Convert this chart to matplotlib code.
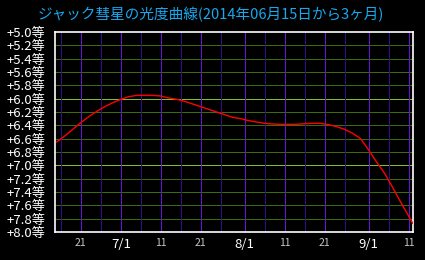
import numpy as np
import matplotlib
matplotlib.use("Agg")
import matplotlib.pyplot as plt

plt.rcParams['font.family'] = ['Noto Sans CJK JP', 'DejaVu Sans']

# Definitions
TITLE = "ジャック彗星の光度曲線(2014年06月15日から3ヶ月)"
START = np.datetime64('2014-06-15')

# days after 6/15 and magnitude
days = [0, 2, 4, 6, 8, 10, 12, 14, 16, 18, 20, 22, 24, 26, 28, 30, 32, 34, 36, 38,
        40, 42, 44, 46, 48, 50, 52, 54, 56, 58, 60, 62, 64, 66, 68, 70, 72, 74, 76,
        78, 80, 82, 84, 86, 88, 89]
mags = [6.65, 6.56, 6.46, 6.36, 6.27, 6.19, 6.12, 6.06, 6.01, 5.97, 5.95, 5.95, 5.95,
        5.96, 5.99, 6.01, 6.04, 6.08, 6.12, 6.16, 6.20, 6.24, 6.28, 6.30, 6.33, 6.35,
        6.37, 6.38, 6.385, 6.385, 6.385, 6.375, 6.37, 6.37, 6.39, 6.42, 6.46, 6.52,
        6.60, 6.77, 6.95, 7.12, 7.33, 7.55, 7.76, 7.87]

# grid dates (1st, 11th, 21st bright; 6th, 16th, 26th dark)
grid_dates = ['2014-06-16', '2014-06-21', '2014-06-26', '2014-07-01', '2014-07-06',
              '2014-07-11', '2014-07-16', '2014-07-21', '2014-07-26', '2014-08-01',
              '2014-08-06', '2014-08-11', '2014-08-16', '2014-08-21', '2014-08-26',
              '2014-09-01', '2014-09-06', '2014-09-11']
tick_dates = ['2014-06-21', '2014-07-01', '2014-07-11', '2014-07-21', '2014-08-01',
              '2014-08-11', '2014-08-21', '2014-09-01', '2014-09-11']
tick_labels = ['21', '7/1', '11', '21', '8/1', '11', '21', '9/1', '11']

mag_ticks = np.round(np.arange(5.0, 8.01, 0.2), 1)


def offset(d):
    return float((np.datetime64(d) - START) / np.timedelta64(1, 'D'))


fig = plt.figure(figsize=(4.25, 2.6), dpi=100, facecolor='black')
ax = fig.add_axes([55 / 425, 28 / 260, 358 / 425, 200 / 260])
ax.set_facecolor('black')

# horizontal grid (1 px = 0.72 pt at 100 dpi)
for m in mag_ticks[1:-1]:
    bright = abs(m - 6.0) < 1e-6 or abs(m - 7.0) < 1e-6
    ax.axhline(m, color='#80c020' if bright else '#3c6c08', lw=0.72,
               snap=True, zorder=1)

# vertical grid
for d in grid_dates:
    day = int(d[-2:])
    bright = day in (1, 11, 21)
    ax.axvline(offset(d), color='#6414dc' if bright else '#360c8c', lw=0.72,
               snap=True, zorder=1)

ax.plot(days, mags, color='#ff0000', lw=1.0, zorder=3)

ax.set_xlim(-0.45, 89.1)
ax.set_ylim(8.0, 5.0)

for s in ax.spines.values():
    s.set_color('white')
    s.set_linewidth(1.2)

ax.set_yticks(mag_ticks)
ax.set_yticklabels(["+%.1f等" % m for m in mag_ticks])
ax.tick_params(axis='y', length=0, pad=7, colors='white', labelsize=9.5)

ax.set_xticks([offset(d) for d in tick_dates])
ax.set_xticklabels(tick_labels)
ax.tick_params(axis='x', length=0, pad=4)
for lab in ax.get_xticklabels():
    if '/' in lab.get_text():
        lab.set_color('white')
        lab.set_fontsize(9.5)
    else:
        lab.set_color('#c8c8c8')
        lab.set_fontsize(7.5)

fig.text(211 / 425, 1 - 15 / 260, TITLE, color='#18a8f0', fontsize=10.5,
         ha='center', va='center')

fig.savefig('out.png', dpi=100, facecolor='black')
